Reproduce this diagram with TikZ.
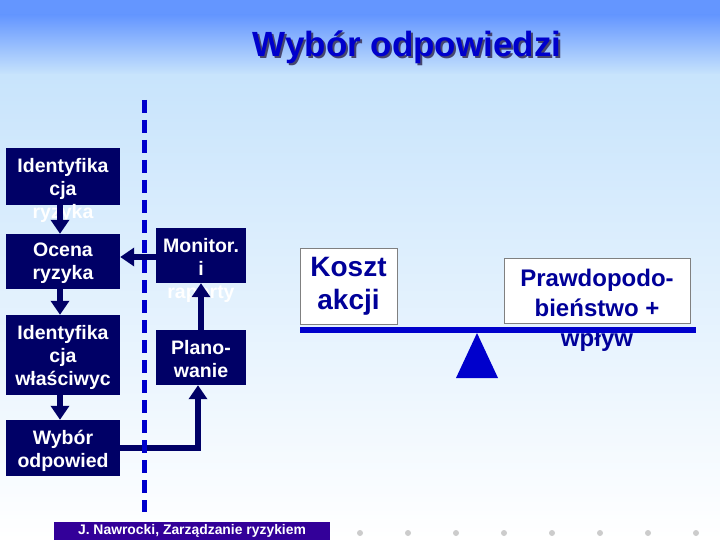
\documentclass[tikz,border=0pt]{standalone}
\usepackage{fontspec}
\setmainfont{Liberation Sans}
\usetikzlibrary{arrows.meta,positioning}
\definecolor{navy}{RGB}{0,0,102}
\definecolor{linkblue}{RGB}{0,0,204}
\definecolor{textblue}{RGB}{0,0,153}
\definecolor{skytop}{RGB}{100,150,255}
\definecolor{skymid}{RGB}{200,228,252}
\definecolor{footviolet}{RGB}{51,0,153}
\definecolor{shadowgray}{RGB}{70,70,110}
\tikzset{
  darkbox/.style={fill=navy, inner sep=0pt},
  boxtext/.style={text=white, font=\bfseries\fontsize{19.5}{23}\selectfont, align=center, anchor=north, inner sep=0pt},
  flow/.style={draw=navy, line width=6pt, -{Triangle[width=18pt,length=14pt]}},
  whitebox/.style={fill=white, draw=gray, line width=0.8pt, inner sep=0pt},
}
\begin{document}
\begin{tikzpicture}[x=1pt, y=-1pt]
    \useasboundingbox (0,0) rectangle (720,540);
    % background
    \fill[skytop] (0,0) rectangle (720,15);
    \shade[top color=skytop, bottom color=skymid] (0,15) rectangle (720,75);
    \shade[top color=skymid, bottom color=white] (0,75) rectangle (720,540);
    % title
    \node[font=\bfseries\fontsize{35}{40}\selectfont, text=shadowgray] (titleshadow) at (409,49) {Wybór odpowiedzi};
    \node[font=\bfseries\fontsize{35}{40}\selectfont, text=linkblue] (title) at (407,47) {Wybór odpowiedzi};
    % process boxes
    \node[darkbox, minimum width=114pt, minimum height=57pt] (ident) at (63,176.5) {};
    \node[darkbox, minimum width=114pt, minimum height=55pt] (assess) at (63,261.5) {};
    \node[darkbox, minimum width=114pt, minimum height=80pt] (owner) at (63,355) {};
    \node[darkbox, minimum width=114pt, minimum height=56pt] (choice) at (63,448) {};
    \node[darkbox, minimum width=90pt, minimum height=55pt] (monitor) at (201,255.5) {};
    \node[darkbox, minimum width=90pt, minimum height=55pt] (plan) at (201,357.5) {};
    \node[boxtext] (identtext) at ([yshift=-10pt]ident.north) {Identyfika\\cja\\ryzyka};
    \node[boxtext] (assesstext) at ([yshift=-9pt]assess.north) {Ocena\\ryzyka};
    \node[boxtext] (ownertext) at ([yshift=-10pt]owner.north) {Identyfika\\cja\\właściwyc};
    \node[boxtext] (choicetext) at ([yshift=-10pt]choice.north) {Wybór\\odpowied};
    \node[boxtext] (monitortext) at ([yshift=-10pt]monitor.north) {Monitor.\\i\\raporty};
    \node[boxtext] (plantext) at ([yshift=-10pt]plan.north) {Plano-\\wanie};
    % arrows
    \draw[flow] ([xshift=-3pt]ident.south) -- ([xshift=-3pt]assess.north);
    \draw[flow] ([xshift=-3pt]assess.south) -- ([xshift=-3pt]owner.north);
    \draw[flow] ([xshift=-3pt]owner.south) -- ([xshift=-3pt]choice.north);
    \draw[flow] ([yshift=-1.5pt]monitor.west) -- ([yshift=-1.5pt]monitor.west -| assess.east);
    \draw[flow] (plan.north) -- (monitor.south);
    \draw[flow] (choice.east) -| ([xshift=-3pt]plan.south);
    % separator
    \coordinate (septop) at (144,100);
    \coordinate (sepbottom) at (144,512);
    \draw[linkblue, line width=5pt, dash pattern=on 13pt off 7pt] (septop) -- (sepbottom);
    % balance
    \node[whitebox, minimum width=97pt, minimum height=76pt, text=textblue, align=center,
          font=\bfseries\fontsize{28}{33}\selectfont] (cost) at (348.5,286) {Koszt\\akcji};
    \node[whitebox, minimum width=186pt, minimum height=65pt] (risk) at (597,290.5) {};
    \node[text=textblue, align=center, anchor=north, inner sep=0pt,
          font=\bfseries\fontsize{24}{30}\selectfont] (risktext) at ([yshift=-11pt]risk.north) {Prawdopodo-\\bieństwo +\\wpływ};
    \coordinate (beamleft) at (300,330);
    \coordinate (beamright) at (696,330);
    \draw[linkblue, line width=6pt] (beamleft) -- (beamright);
    \fill[linkblue] (477,333) -- (456,378) -- (498,378) -- cycle;
    % footer
    \node[fill=footviolet, minimum width=276pt, minimum height=18pt, inner sep=0pt, text=white,
          font=\bfseries\fontsize{13.9}{16}\selectfont] (footer) at (192,531) {J. Nawrocki, Zarządzanie ryzykiem};
    \foreach \x in {360,408,...,696}
        \fill[gray!40] (\x,533) circle (3pt);
\end{tikzpicture}
\end{document}
